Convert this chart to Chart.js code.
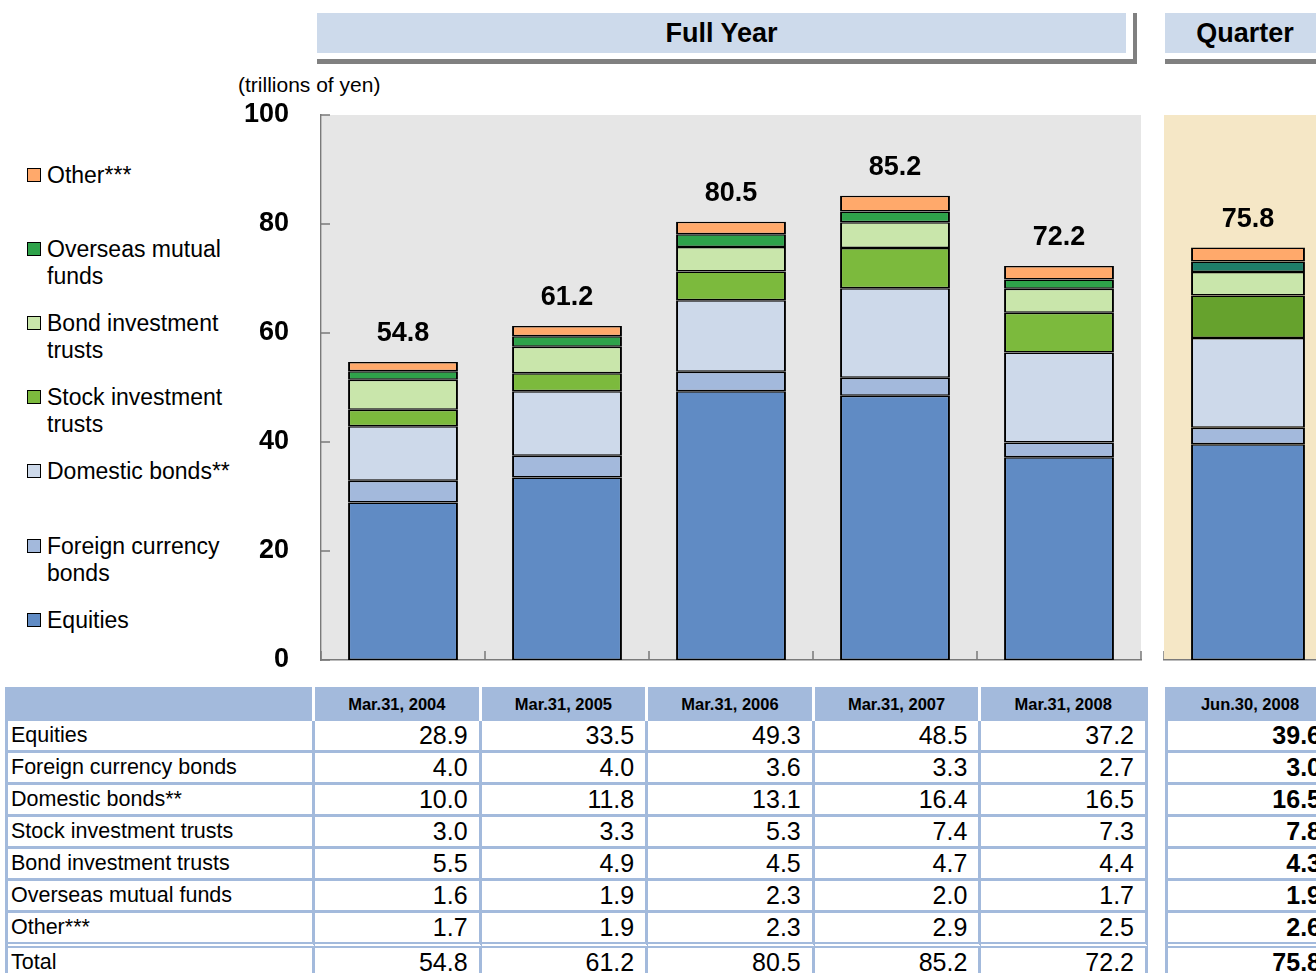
<!DOCTYPE html>
<html>
<head>
<meta charset="utf-8">
<script src="https://cdn.jsdelivr.net/npm/chart.js@4.4.1/dist/chart.umd.min.js"></script>
<style>
  body { margin: 0; width: 1316px; height: 973px; overflow: hidden; background: #fff; position: relative;
         font-family: Arial, "Liberation Sans", sans-serif; color: #000; }
  .abs { position: absolute; }
  .hdr { background: #CDDAEB; height: 40px; line-height: 40px; font-weight: bold; font-size: 27px; text-align: center; top: 13px; }
  .shadow { background: #808080; }
  #unit { left: 238px; top: 73px; font-size: 21px; }
  .leg { left: 27px; font-size: 23px; line-height: 27px; }
  .leg i { position: absolute; left: 0; top: 6px; width: 12px; height: 12px; border: 1.5px solid #000; }
  .leg span { display: block; margin-left: 20px; white-space: pre; }
  table { position: absolute; top: 687px; border-collapse: separate; border-spacing: 0; table-layout: fixed;
          border-left: 3px solid #A3BADC; box-sizing: border-box; }
  th { background: #A3BADC; line-height: 34px; font-size: 16.5px; font-weight: bold; padding: 0;
       border-right: 3px solid #fff; box-sizing: border-box; width: 166.6px; text-align: center; }
  th:last-child { border-right-color: #A3BADC; }
  th.lab { width: 307px; }
  td { background: #fff; line-height: 29px; font-size: 25px; padding: 0 11px 0 0; text-align: right;
       border-right: 3px solid #A3BADC; border-bottom: 3px solid #A3BADC; white-space: nowrap; }
  td.lab { text-align: left; font-size: 21.5px; padding: 0 0 0 3px; }
  tr.other td { border-bottom: 6px double #A3BADC; }
  #tblQ td { font-weight: bold; }
</style>
</head>
<body>
<div class="abs hdr" style="left:317px;width:809px;">Full Year</div>
<div class="abs shadow" style="left:317px;top:59px;width:820px;height:5px;"></div>
<div class="abs shadow" style="left:1133px;top:13px;width:4px;height:51px;"></div>
<div class="abs hdr" style="left:1165px;width:160px;">Quarter</div>
<div class="abs shadow" style="left:1165px;top:59px;width:200px;height:5px;"></div>
<div class="abs" id="unit">(trillions of yen)</div>
<div id="legend"></div>
<canvas id="fullChart" class="abs" width="1150" height="582" style="left:0;top:98px;"></canvas>
<canvas id="quarterChart" class="abs" width="170" height="582" style="left:1163px;top:98px;"></canvas>
<table id="tblFull" style="left:5px;width:1143px;"></table>
<table id="tblQ" style="left:1165px;width:170px;"></table>
<script>
// last value of each array is the quarter (Jun.30, 2008)
const categories = ["Mar.31, 2004", "Mar.31, 2005", "Mar.31, 2006", "Mar.31, 2007", "Mar.31, 2008"];
const quarterCategories = ["Jun.30, 2008"];
const seriesNames = ["Equities", "Foreign currency bonds", "Domestic bonds**", "Stock investment trusts",
                     "Bond investment trusts", "Overseas mutual funds", "Other***"];
const legendLabels = ["Equities", "Foreign currency\nbonds", "Domestic bonds**", "Stock investment\ntrusts",
                      "Bond investment\ntrusts", "Overseas mutual\nfunds", "Other***"];
const equities = [28.9, 33.5, 49.3, 48.5, 37.2, 39.6];
const foreignBonds = [4.0, 4.0, 3.6, 3.3, 2.7, 3.0];
const domesticBonds = [10.0, 11.8, 13.1, 16.4, 16.5, 16.5];
const stockTrusts = [3.0, 3.3, 5.3, 7.4, 7.3, 7.8];
const bondTrusts = [5.5, 4.9, 4.5, 4.7, 4.4, 4.3];
const overseasFunds = [1.6, 1.9, 2.3, 2.0, 1.7, 1.9];
const other = [1.7, 1.9, 2.3, 2.9, 2.5, 2.6];
const totals = [54.8, 61.2, 80.5, 85.2, 72.2, 75.8];
const yTicks = [0, 20, 40, 60, 80, 100];

const series = [equities, foreignBonds, domesticBonds, stockTrusts, bondTrusts, overseasFunds, other];
const fullColors = ["#608BC4", "#A3B9DC", "#CDD9EA", "#7CBA3D", "#C9E6AB", "#2EA24A", "#FFA96B"];
const quarterColors = ["#608BC4", "#A3B9DC", "#CDD9EA", "#66A22D", "#C9E6AB", "#1E7E69", "#FFA96B"];

// legend (top item = last series)
const legend = document.getElementById("legend");
for (let k = seriesNames.length - 1, i = 0; k >= 0; k--, i++) {
  const d = document.createElement("div");
  d.className = "abs leg";
  d.style.top = (161.5 + 74.2 * i) + "px";
  d.innerHTML = `<i style="background:${fullColors[k]}"></i><span></span>`;
  d.querySelector("span").textContent = legendLabels[k];
  legend.appendChild(d);
}

// plot background, inner ticks and total labels
const decor = {
  id: "decor",
  beforeDraw(chart, args, o) {
    const a = chart.chartArea, ctx = chart.ctx;
    ctx.save();
    ctx.fillStyle = o.bg;
    ctx.fillRect(a.left + 1, a.top, a.right - a.left - 1, a.bottom - a.top);
    ctx.restore();
  },
  afterDraw(chart, args, o) {
    const a = chart.chartArea, ctx = chart.ctx;
    ctx.save();
    ctx.strokeStyle = "#7a7a7a";
    ctx.lineWidth = 1.5;
    const n = chart.data.labels.length, w = (a.right - a.left) / n;
    ctx.beginPath();
    for (let i = 0; i <= n; i++) {
      const x = a.left + i * w;
      ctx.moveTo(x, a.bottom);
      ctx.lineTo(x, a.bottom - 9);
    }
    if (o.yTicks) {
      chart.scales.y.ticks.forEach(t => {
        const y = chart.scales.y.getPixelForValue(t.value);
        ctx.moveTo(a.left, y);
        ctx.lineTo(a.left + 9, y);
      });
    }
    ctx.stroke();
    ctx.fillStyle = "#000";
    ctx.font = "bold 27px Arial, 'Liberation Sans'";
    ctx.textAlign = "center";
    ctx.textBaseline = "middle";
    const meta = chart.getDatasetMeta(chart.data.datasets.length - 1);
    meta.data.forEach((bar, i) => {
      ctx.fillText(o.totals[i].toFixed(1), bar.x, bar.y - 28);
    });
    ctx.restore();
  }
};

function makeChart(id, labels, from, to, colors, bg, showY) {
  const datasets = series.map((vals, k) => ({
    label: seriesNames[k],
    data: vals.slice(from, to),
    backgroundColor: colors[k],
    borderColor: "#000",
    borderWidth: { top: 1.5, bottom: 1.5, left: 2, right: 2 },
    borderSkipped: false,
    barPercentage: 1,
    categoryPercentage: 0.67
  }));
  return new Chart(document.getElementById(id), {
    type: "bar",
    data: { labels, datasets },
    options: {
      responsive: false,
      maintainAspectRatio: false,
      animation: false,
      layout: { padding: { top: 17, bottom: 20, left: 0, right: showY ? 9 : 0 } },
      plugins: {
        legend: { display: false },
        tooltip: { enabled: false },
        decor: { bg, totals: totals.slice(from, to), yTicks: showY }
      },
      scales: {
        x: {
          stacked: true,
          ticks: { display: false },
          grid: { display: false, drawTicks: false },
          border: { display: true, color: "#7a7a7a", width: 1.5 },
          afterFit: s => { s.height = 0; }
        },
        y: {
          stacked: true,
          display: showY,
          min: 0,
          max: 100,
          afterBuildTicks: s => { s.ticks = yTicks.map(v => ({ value: v })); },
          ticks: { color: "#000", padding: 0, font: { family: "Arial, 'Liberation Sans'", size: 27, weight: "bold" } },
          grid: { display: false, drawTicks: true, tickLength: 32 },
          border: { display: true, color: "#7a7a7a", width: 1.5 },
          afterFit: s => { if (showY) s.width = 321; }
        }
      }
    },
    plugins: [decor]
  });
}

makeChart("fullChart", categories, 0, 5, fullColors, "#E6E6E6", true);
makeChart("quarterChart", quarterCategories, 5, 6, quarterColors, "#F5E7C6", false);

// data tables
function buildTable(id, cats, from, to, withLabels) {
  let h = "<tr>" + (withLabels ? '<th class="lab"></th>' : "") + cats.map(c => `<th>${c}</th>`).join("") + "</tr>";
  const lab = t => (withLabels ? `<td class="lab">${t}</td>` : "");
  series.forEach((vals, k) => {
    h += `<tr${k === series.length - 1 ? ' class="other"' : ""}>` + lab(seriesNames[k]) +
         vals.slice(from, to).map(v => `<td>${v.toFixed(1)}</td>`).join("") + "</tr>";
  });
  h += "<tr>" + lab("Total") + totals.slice(from, to).map(v => `<td>${v.toFixed(1)}</td>`).join("") + "</tr>";
  document.getElementById(id).innerHTML = h;
}
buildTable("tblFull", categories, 0, 5, true);
buildTable("tblQ", quarterCategories, 5, 6, false);
</script>
</body>
</html>
